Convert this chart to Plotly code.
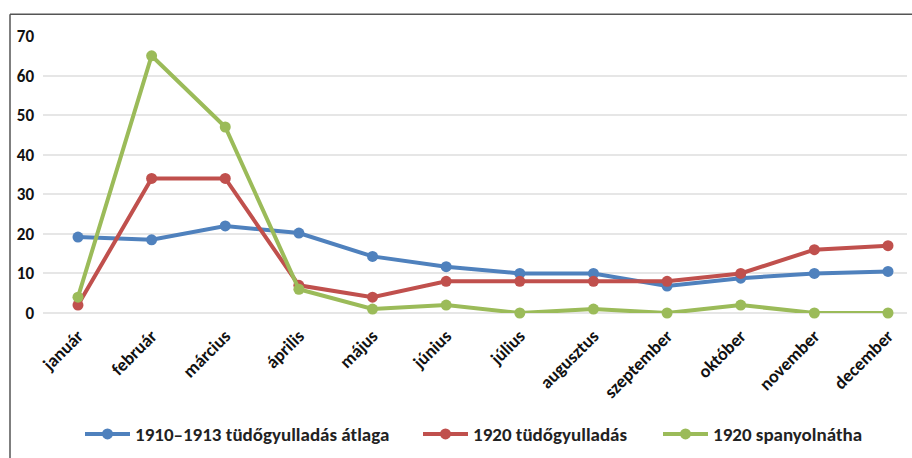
import plotly.graph_objects as go

months = ["január", "február", "március", "április", "május", "június",
          "július", "augusztus", "szeptember", "október", "november", "december"]
avg_1910_1913 = [19.2, 18.5, 22, 20.2, 14.3, 11.7, 10, 10, 6.8, 8.8, 10, 10.5]
pneu_1920 = [2, 34, 34, 7, 4, 8, 8, 8, 8, 10, 16, 17]
flu_1920 = [4, 65, 47, 6, 1, 2, 0, 1, 0, 2, 0, 0]
series_names = ["1910–1913 tüdőgyulladás átlaga", "1920 tüdőgyulladás", "1920 spanyolnátha"]
colors = ["#4F81BD", "#C0504D", "#9BBB59"]
yticks = [0, 10, 20, 30, 40, 50, 60, 70]

FONT = "Carlito, 'Liberation Sans Narrow', 'Open Sans', sans-serif"
L, R, T, B = 43, 5, 36, 143
PW = 912 - L - R

def px2paper(px):
    return (px - L) / PW

legend_names = ["legend", "legend2", "legend3"]
legend_px = [80, 418, 658]

fig = go.Figure()
xs = list(range(len(months)))
for name, vals, c, lg in zip(series_names, [avg_1910_1913, pneu_1920, flu_1920], colors, legend_names):
    fig.add_trace(go.Scatter(
        x=xs, y=vals, name=name, mode="lines+markers",
        line=dict(color=c, width=4), marker=dict(color=c, size=11),
        cliponaxis=False, legend=lg,
    ))

legend_common = dict(orientation="h", xanchor="left", y=-0.437, yanchor="middle",
                     font=dict(size=19, color="#222", weight="bold"), itemwidth=45,
                     bgcolor="rgba(0,0,0,0)")
layout_legends = {}
for lg, px in zip(legend_names, legend_px):
    layout_legends[lg] = dict(x=px2paper(px), **legend_common)

fig.update_layout(
    width=912, height=458,
    margin=dict(l=L, r=R, t=T, b=B),
    paper_bgcolor="white", plot_bgcolor="white",
    font=dict(family=FONT, size=14, color="#000000"),
    showlegend=True,
    xaxis=dict(
        range=[-0.475, 11.258], tickmode="array", tickvals=xs, ticktext=months,
        tickangle=-45, showgrid=False, showline=False, zeroline=False,
        tickfont=dict(size=18, color="#111", weight="bold"),
        ticklabelstandoff=8,
    ),
    yaxis=dict(
        range=[0, 70], tickmode="array", tickvals=yticks,
        showgrid=True, gridcolor="#E6E6E6", gridwidth=1.5,
        zeroline=True, zerolinecolor="#E6E6E6", zerolinewidth=1.5,
        showline=False, tickfont=dict(size=17, color="#111", weight="bold"),
        ticklabelstandoff=8,
    ),
    shapes=[
        dict(type="line", xref="paper", yref="paper", x0=px2paper(10), x1=1.1,
             y0=1.0789, y1=1.0789, line=dict(color="#555", width=1.5)),
        dict(type="line", xref="paper", yref="paper", x0=px2paper(10), x1=px2paper(10),
             y0=1.0789, y1=-0.6, line=dict(color="#555", width=1.5)),
    ],
    **layout_legends,
)
fig.write_html("out.html")
